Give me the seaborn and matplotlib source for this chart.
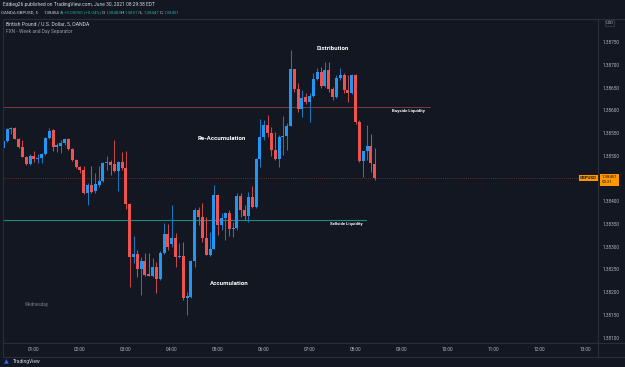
import numpy as np
import pandas as pd
import matplotlib
matplotlib.use("Agg")
import matplotlib.pyplot as plt
from matplotlib.lines import Line2D
import matplotlib.transforms as mtransforms
import seaborn as sns

# ---------------- data ----------------
times = pd.date_range("2021-06-30 00:20", periods=98, freq="5min")
opens = [1.38517, 1.38533, 1.38558, 1.38561, 1.38537, 1.38519, 1.38497, 1.38482, 1.38500, 1.38493,
         1.38495, 1.38504, 1.38539, 1.38557, 1.38519, 1.38522, 1.38528, 1.38537, 1.38515, 1.38491,
         1.38475, 1.38469, 1.38418, 1.38436, 1.38422, 1.38436, 1.38444, 1.38484, 1.38486, 1.38482,
         1.38467, 1.38486, 1.38473, 1.38394, 1.38277, 1.38284, 1.38251, 1.38268, 1.38240, 1.38235,
         1.38255, 1.38229, 1.38286, 1.38328, 1.38306, 1.38319, 1.38277, 1.38279, 1.38187, 1.38189,
         1.38268, 1.38381, 1.38365, 1.38319, 1.38281, 1.38295, 1.38414, 1.38348, 1.38363, 1.38374,
         1.38339, 1.38341, 1.38411, 1.38381, 1.38367, 1.38409, 1.38387, 1.38493, 1.38541, 1.38568,
         1.38550, 1.38513, 1.38493, 1.38541, 1.38544, 1.38566, 1.38691, 1.38647, 1.38603, 1.38630,
         1.38619, 1.38632, 1.38669, 1.38685, 1.38654, 1.38689, 1.38647, 1.38630, 1.38671, 1.38678,
         1.38645, 1.38638, 1.38678, 1.38574, 1.38489, 1.38511, 1.38522, 1.38483]
highs = [1.38535, 1.38561, 1.38563, 1.38563, 1.38539, 1.38535, 1.38500, 1.38504, 1.38511, 1.38504,
         1.38506, 1.38541, 1.38561, 1.38559, 1.38528, 1.38535, 1.38539, 1.38539, 1.38517, 1.38493,
         1.38478, 1.38478, 1.38440, 1.38478, 1.38462, 1.38478, 1.38486, 1.38500, 1.38491, 1.38535,
         1.38489, 1.38508, 1.38511, 1.38396, 1.38323, 1.38292, 1.38277, 1.38286, 1.38286, 1.38275,
         1.38266, 1.38290, 1.38352, 1.38350, 1.38392, 1.38330, 1.38308, 1.38310, 1.38200, 1.38270,
         1.38385, 1.38387, 1.38396, 1.38365, 1.38332, 1.38436, 1.38416, 1.38374, 1.38376, 1.38381,
         1.38354, 1.38418, 1.38418, 1.38392, 1.38420, 1.38433, 1.38495, 1.38581, 1.38579, 1.38590,
         1.38563, 1.38552, 1.38546, 1.38588, 1.38572, 1.38733, 1.38691, 1.38660, 1.38645, 1.38638,
         1.38638, 1.38682, 1.38693, 1.38696, 1.38707, 1.38707, 1.38652, 1.38678, 1.38693, 1.38682,
         1.38678, 1.38680, 1.38680, 1.38579, 1.38511, 1.38568, 1.38548, 1.38517]
lows = [1.38515, 1.38530, 1.38548, 1.38537, 1.38517, 1.38497, 1.38480, 1.38480, 1.38486, 1.38484,
        1.38484, 1.38502, 1.38537, 1.38511, 1.38508, 1.38506, 1.38524, 1.38513, 1.38489, 1.38473,
        1.38462, 1.38416, 1.38392, 1.38418, 1.38418, 1.38431, 1.38442, 1.38469, 1.38458, 1.38464,
        1.38422, 1.38469, 1.38383, 1.38211, 1.38264, 1.38233, 1.38193, 1.38235, 1.38235, 1.38233,
        1.38198, 1.38227, 1.38284, 1.38292, 1.38299, 1.38255, 1.38275, 1.38182, 1.38149, 1.38187,
        1.38255, 1.38348, 1.38310, 1.38281, 1.38279, 1.38295, 1.38326, 1.38337, 1.38314, 1.38323,
        1.38321, 1.38337, 1.38365, 1.38359, 1.38354, 1.38385, 1.38385, 1.38475, 1.38535, 1.38541,
        1.38500, 1.38491, 1.38475, 1.38502, 1.38513, 1.38566, 1.38641, 1.38597, 1.38586, 1.38615,
        1.38574, 1.38630, 1.38667, 1.38649, 1.38652, 1.38641, 1.38623, 1.38627, 1.38667, 1.38638,
        1.38619, 1.38636, 1.38570, 1.38486, 1.38453, 1.38491, 1.38464, 1.38447]
closes = [1.38533, 1.38559, 1.38561, 1.38537, 1.38519, 1.38497, 1.38482, 1.38500, 1.38493, 1.38495,
          1.38504, 1.38539, 1.38555, 1.38519, 1.38524, 1.38528, 1.38537, 1.38515, 1.38491, 1.38475,
          1.38469, 1.38418, 1.38436, 1.38420, 1.38438, 1.38444, 1.38484, 1.38486, 1.38480, 1.38467,
          1.38486, 1.38473, 1.38394, 1.38277, 1.38284, 1.38251, 1.38268, 1.38237, 1.38235, 1.38255,
          1.38229, 1.38286, 1.38328, 1.38299, 1.38319, 1.38277, 1.38279, 1.38187, 1.38191, 1.38268,
          1.38381, 1.38365, 1.38319, 1.38281, 1.38295, 1.38414, 1.38348, 1.38363, 1.38374, 1.38339,
          1.38341, 1.38411, 1.38381, 1.38367, 1.38409, 1.38387, 1.38493, 1.38541, 1.38568, 1.38550,
          1.38513, 1.38493, 1.38541, 1.38544, 1.38566, 1.38691, 1.38647, 1.38603, 1.38627, 1.38619,
          1.38632, 1.38669, 1.38685, 1.38654, 1.38689, 1.38647, 1.38630, 1.38671, 1.38678, 1.38645,
          1.38638, 1.38678, 1.38574, 1.38489, 1.38511, 1.38522, 1.38484, 1.38451]

price_ticks = [1.38100, 1.38150, 1.38200, 1.38250, 1.38300, 1.38350, 1.38400,
               1.38500, 1.38550, 1.38600, 1.38650, 1.38700, 1.38750]
hour_labels = ["01:00", "02:00", "03:00", "04:00", "05:00", "06:00", "07:00",
               "08:00", "09:00", "10:00", "11:00", "12:00", "13:00"]
buyside_level = 1.38608
sellside_level = 1.38359
last_price = 1.38451

# ---------------- style ----------------
BG = "#131722"
UP = "#2196f3"
DOWN = "#ef5350"
TXT = "#b2b5be"
BORDER = "#2a2e39"

sns.set_theme(style="dark", rc={"axes.facecolor": BG, "figure.facecolor": BG})
plt.rcParams["font.family"] = ["Roboto", "DejaVu Sans"]

df = pd.DataFrame({"time": times, "open": opens, "high": highs, "low": lows, "close": closes})
df["slot"] = (df["time"].dt.hour * 60 + df["time"].dt.minute) / 5.0
df["up"] = df["close"] >= df["open"]
df["color"] = np.where(df["up"], UP, DOWN)
df["wick"] = np.where(df["up"], "#1a78c2", "#c8484a")
df["body_lo"] = df[["open", "close"]].min(axis=1)
df["body_h"] = (df["close"] - df["open"]).abs().clip(lower=0.000014)

W, H = 625, 367
fig = plt.figure(figsize=(W / 100, H / 100), dpi=100, facecolor=BG)
ax = fig.add_axes([3 / W, (H - 343) / H, 595 / W, 324 / H])
ax.set_facecolor(BG)

# wicks and bodies
ax.vlines(df["slot"], df["low"], df["high"], colors=df["wick"], linewidth=0.75, zorder=3)
ax.bar(df["slot"], df["body_h"], bottom=df["body_lo"], width=0.78, color=df["color"],
       linewidth=0, zorder=4)

ax.set_xlim(3.92, 159.3)
ax.set_ylim(1.38088, 1.38801)

# liquidity lines
ax.plot([3.92, 115.4], [buyside_level, buyside_level], color="#7a3e3e", lw=0.7, zorder=2)
ax.plot([3.92, 98.7], [sellside_level, sellside_level], color="#1f8a80", lw=0.8, zorder=2)
ax.axhline(last_price, color="#7a3838", lw=0.6, ls=(0, (1, 1.5)), zorder=1)

# axes ticks
ax.yaxis.tick_right()
ax.set_yticks(price_ticks)
ax.set_yticklabels([f"{p:.5f}" for p in price_ticks])
ax.set_xticks([12 + 12 * i for i in range(len(hour_labels))])
ax.set_xticklabels(hour_labels)
ax.tick_params(axis="y", length=0, pad=3.3, labelsize=3.4, colors=TXT)
ax.tick_params(axis="x", length=0, pad=2.6, labelsize=3.4, colors=TXT)
ax.grid(False)
for s in ["top", "left", "bottom"]:
    ax.spines[s].set_visible(False)
ax.spines["right"].set_color(BORDER)
ax.spines["right"].set_linewidth(0.8)

# frame lines (time axis / price axis)
def fig_line(x0, y0, x1, y1):
    fig.add_artist(Line2D([x0 / W, x1 / W], [1 - y0 / H, 1 - y1 / H], color=BORDER, lw=0.8))

fig_line(3, 343, 625, 343)
fig_line(3, 357, 625, 357)
fig_line(598, 343, 598, 357)
fig_line(3, 19, 625, 19)
fig_line(3, 19, 3, 357)

# annotations
lab = dict(color="white", fontsize=4.4, fontweight="bold", ha="center", va="center", zorder=6)
ax.text(90.1, 1.38735, "Distribution", **lab)
ax.text(61.1, 1.38537, "Re-Accumulation", **lab)
ax.text(63.1, 1.38220, "Accumulation", **lab)
sm = dict(color="white", fontsize=3.1, fontweight="bold", ha="center", va="center", zorder=6)
ax.text(109.7, 1.38599, "Buyside Liquidity", **sm)
ax.text(93.7, 1.38350, "Sellside Liquidity", **sm)
ax.text(12.7, 1.38173, "Wednesday", color="#787b86", fontsize=3.3, ha="center", va="center")

# price tags
blend = mtransforms.blended_transform_factory(ax.transAxes, ax.transData)
ax.text(0.9975, last_price, "GBPUSD", transform=blend, ha="right", va="center", fontsize=3.2,
        color="#131722", fontweight="bold", zorder=7,
        bbox=dict(boxstyle="square,pad=0.25", fc="#ff9800", ec="none"))
ax.text(1.006, last_price - 0.00004, "1.38451\n00:21", transform=blend, ha="left", va="center",
        fontsize=3.2, color="#131722", linespacing=1.3, zorder=7, clip_on=False,
        bbox=dict(boxstyle="square,pad=0.35", fc="#ff9800", ec="none"))
fig.text(610 / W, 1 - 23.5 / H, "USD", fontsize=3.0, color=TXT, ha="center", va="center",
         bbox=dict(boxstyle="round,pad=0.2", fc=BG, ec="#50535e", lw=0.4))

# header
hd = dict(fontsize=3.5, va="center", ha="left")
fig.text(3 / W, 1 - 4.5 / H, "Eddieg26 published on TradingView.com, June 30, 2021 08:29:38 EDT",
         color="#d1d4dc", **hd)
hd2 = dict(fontsize=3.15, va="center", ha="left")
parts = [(1, "OANDA:GBPUSD, 5", "#d1d4dc"), (44, "1.38454", "#d1d4dc"), (59.5, "▲", "#26a69a"),
         (64.5, "+0.00050 (+0.04%)", "#26a69a"), (101.5, "O:", "#d1d4dc"), (106, "1.38483", "#26a69a"),
         (120.5, "H:", "#d1d4dc"), (125, "1.38517", "#26a69a"), (140, "L:", "#d1d4dc"),
         (144, "1.38447", "#26a69a"), (159.5, "C:", "#d1d4dc"), (164, "1.38451", "#26a69a")]
for x, t, c in parts:
    fig.text(x / W, 1 - 12.5 / H, t, color=c, **hd2)
fig.text(6 / W, 1 - 24.5 / H, "British Pound / U.S. Dollar, 5, OANDA", color="#d1d4dc",
         fontsize=3.7, va="center", ha="left")
fig.text(6 / W, 1 - 31.5 / H, "FXN - Week and Day Separator", color="#9598a1",
         fontsize=3.5, va="center", ha="left")

# watermark
fig.text(4 / W, 1 - 362 / H, "\u25B2", color="#2962ff", fontsize=4.5, ha="left", va="center")
fig.text(13 / W, 1 - 362 / H, "TradingView", color="#d1d4dc", fontsize=3.6, ha="left", va="center")

fig.savefig("out.png", dpi=100, facecolor=BG)
